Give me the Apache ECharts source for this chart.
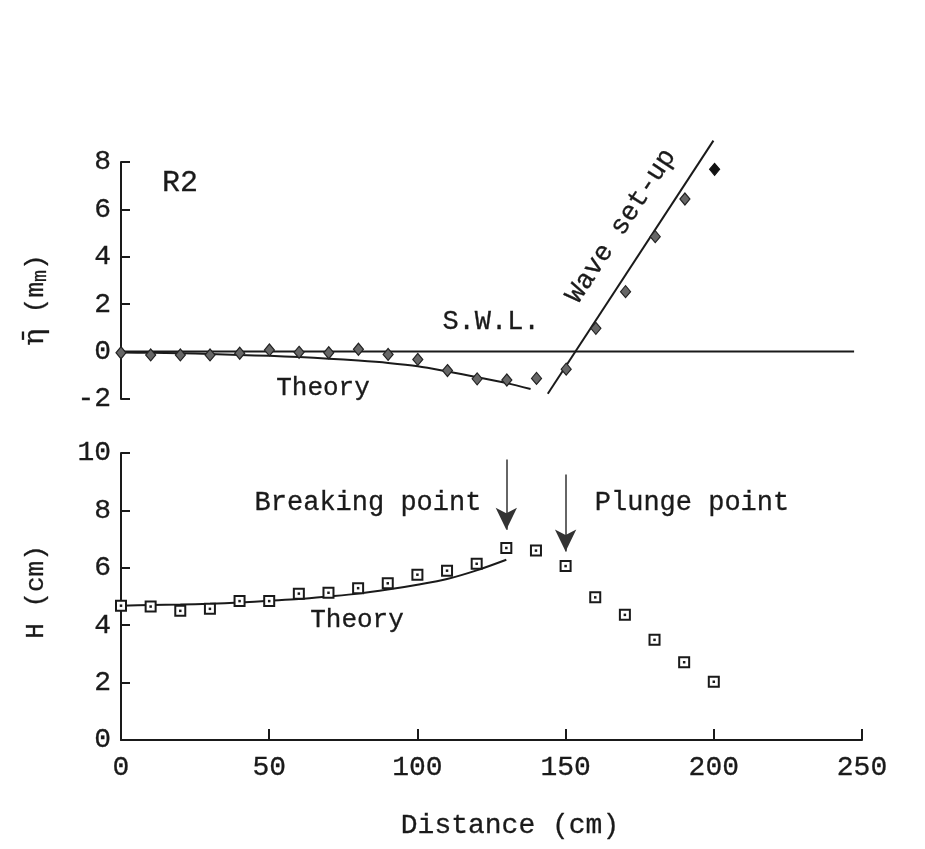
<!DOCTYPE html>
<html>
<head>
<meta charset="utf-8">
<script src="https://cdn.jsdelivr.net/npm/echarts@6/dist/echarts.min.js"></script>
<style>
  html, body { margin: 0; padding: 0; background: #fff; }
  #main { width: 925px; height: 849px; }
</style>
</head>
<body>
<div id="main"></div>
<script>
// distances (cm) of the measuring points
const distance = [0, 10, 20, 30, 40, 50, 60, 70, 80, 90, 100, 110, 120, 130, 140, 150, 160, 170, 180, 190, 200];

// top panel: mean water level (mm)
const etaMeasured = [-0.05, -0.14, -0.14, -0.14, -0.07, 0.07, -0.03, -0.05, 0.10, -0.12, -0.33, -0.80, -1.15, -1.20, -1.13, -0.74, 0.98, 2.53, 4.85, 6.44, 7.69];
const etaTheoryX = [0, 10, 20, 30, 40, 50, 60, 70, 80, 90, 100, 110, 120, 130, 138];
const etaTheory = [-0.04, -0.05, -0.07, -0.10, -0.14, -0.18, -0.23, -0.30, -0.38, -0.48, -0.62, -0.84, -1.08, -1.33, -1.58];
const swlX = [0, 247];
const swlY = [0, 0];
const setupX = [143.8, 199.6];
const setupY = [-1.78, 8.9];

// bottom panel: wave height (cm)
const heightMeasured = [4.68, 4.65, 4.50, 4.57, 4.84, 4.84, 5.10, 5.13, 5.29, 5.46, 5.76, 5.90, 6.14, 6.69, 6.60, 6.06, 4.97, 4.36, 3.49, 2.71, 2.03];
const heightTheoryX = [0, 10, 20, 30, 40, 50, 60, 70, 80, 90, 100, 110, 120, 130];
const heightTheory = [4.68, 4.70, 4.72, 4.75, 4.79, 4.85, 4.91, 5.00, 5.10, 5.24, 5.41, 5.61, 5.91, 6.28];

// arrows: breaking point, plunge point
const arrowX = [130, 150];
const arrowTop = [9.77, 9.25];
const arrowTip = [7.33, 6.57];

const ink = '#1a1a1a';
const font = 'Liberation Mono';

const pairs = (xs, ys) => xs.map((x, i) => [x, ys[i]]);

const chart = echarts.init(document.getElementById('main'));

// a little outline makes the thin mono face look like the typed originals
const txt = (text, x, y, size, extra) => Object.assign({
  type: 'text', x: x, y: y,
  style: {
    text: text, font: size + 'px "' + font + '"', fill: ink,
    stroke: ink, lineWidth: 0.3,
    align: 'center', verticalAlign: 'middle'
  }
}, extra || {});

const axisCommon = {
  axisLine: { show: true, lineStyle: { color: ink, width: 2 } },
  axisTick: { show: true, inside: true, length: 9, lineStyle: { color: ink, width: 2 } },
  splitLine: { show: false },
  axisLabel: { color: ink, fontFamily: font, fontSize: 28, textBorderColor: ink, textBorderWidth: 0.3 }
};

const option = {
  backgroundColor: '#fff',
  animation: false,
  grid: [
    { left: 121, top: 162, width: 742, height: 237 },
    { left: 121, top: 453, width: 741, height: 287 }
  ],
  xAxis: [
    { gridIndex: 0, type: 'value', min: 0, max: 250, show: false },
    Object.assign({}, axisCommon, {
      gridIndex: 1, type: 'value', min: 0, max: 250, interval: 50,
      axisTick: { show: true, inside: true, length: 11, lineStyle: { color: ink, width: 2 } },
      axisLabel: Object.assign({}, axisCommon.axisLabel, { margin: 14 })
    })
  ],
  yAxis: [
    Object.assign({}, axisCommon, {
      gridIndex: 0, type: 'value', min: -2, max: 8, interval: 2,
      axisLabel: Object.assign({}, axisCommon.axisLabel, { margin: 10 })
    }),
    Object.assign({}, axisCommon, {
      gridIndex: 1, type: 'value', min: 0, max: 10, interval: 2,
      axisLabel: Object.assign({}, axisCommon.axisLabel, { margin: 10 })
    })
  ],
  series: [
    {
      name: 'S.W.L.', type: 'line', xAxisIndex: 0, yAxisIndex: 0,
      data: pairs(swlX, swlY), showSymbol: false,
      lineStyle: { color: ink, width: 2 }
    },
    {
      name: 'eta theory', type: 'line', xAxisIndex: 0, yAxisIndex: 0,
      data: pairs(etaTheoryX, etaTheory), showSymbol: false, smooth: 0.3,
      lineStyle: { color: ink, width: 2 }
    },
    {
      name: 'wave set-up', type: 'line', xAxisIndex: 0, yAxisIndex: 0,
      data: pairs(setupX, setupY), showSymbol: false, clip: false,
      lineStyle: { color: ink, width: 2 }
    },
    {
      name: 'eta measured', type: 'scatter', xAxisIndex: 0, yAxisIndex: 0,
      data: distance.map((x, i) => {
        const p = { value: [x, etaMeasured[i]] };
        if (i === distance.length - 1) p.itemStyle = { color: '#111', borderColor: '#111' };
        return p;
      }),
      symbol: 'diamond', symbolSize: [10, 12],
      itemStyle: { color: '#666', borderColor: '#222', borderWidth: 1.2, opacity: 1 },
      z: 5
    },
    {
      name: 'H theory', type: 'line', xAxisIndex: 1, yAxisIndex: 1,
      data: pairs(heightTheoryX, heightTheory), showSymbol: false, smooth: 0.3,
      lineStyle: { color: ink, width: 2 }
    },
    {
      name: 'H measured', type: 'scatter', xAxisIndex: 1, yAxisIndex: 1,
      data: pairs(distance, heightMeasured),
      symbol: 'rect', symbolSize: 10,
      itemStyle: { color: '#fff', borderColor: ink, borderWidth: 2, opacity: 1 },
      z: 5,
      markLine: {
        silent: true,
        symbol: ['none', 'arrow'],
        symbolSize: [16, 22],
        label: { show: false },
        lineStyle: { color: '#333', width: 1.5, type: 'solid' },
        itemStyle: { color: '#555' },
        data: arrowX.map((x, i) => [
          { coord: [x, arrowTop[i]] },
          { coord: [x, arrowTip[i]] }
        ])
      }
    },
    {
      name: 'H measured dot', type: 'scatter', xAxisIndex: 1, yAxisIndex: 1,
      data: pairs(distance, heightMeasured),
      symbol: 'rect', symbolSize: 2.5,
      itemStyle: { color: ink, opacity: 1 },
      z: 6
    }
  ],
  graphic: [
    txt('R2', 180, 183, 30),
    txt('S.W.L.', 491, 322, 27),
    txt('Theory', 323, 388, 26),
    txt('Wave set-up', 621, 226, 27, { rotation: 0.99 }),
    txt('Breaking point', 368, 503, 27),
    txt('Plunge point', 692, 503, 27),
    txt('Theory', 357, 620, 26),
    txt('Distance (cm)', 510, 826, 28),
    txt('H (cm)', 36, 592, 26, { rotation: Math.PI / 2 }),
    {
      type: 'text', x: 36, y: 300, rotation: Math.PI / 2,
      style: {
        text: '{b|η̄} (m{s|m})',
        font: '26px "Liberation Mono"', fill: ink, stroke: ink, lineWidth: 0.3,
        align: 'center', verticalAlign: 'middle',
        rich: {
          b: { font: '28px "DejaVu Serif"', fill: ink },
          s: { font: '20px "Liberation Mono"', fill: ink, padding: [10, 0, 0, 0] }
        }
      }
    }
  ]
};

chart.setOption(option);
</script>
</body>
</html>
